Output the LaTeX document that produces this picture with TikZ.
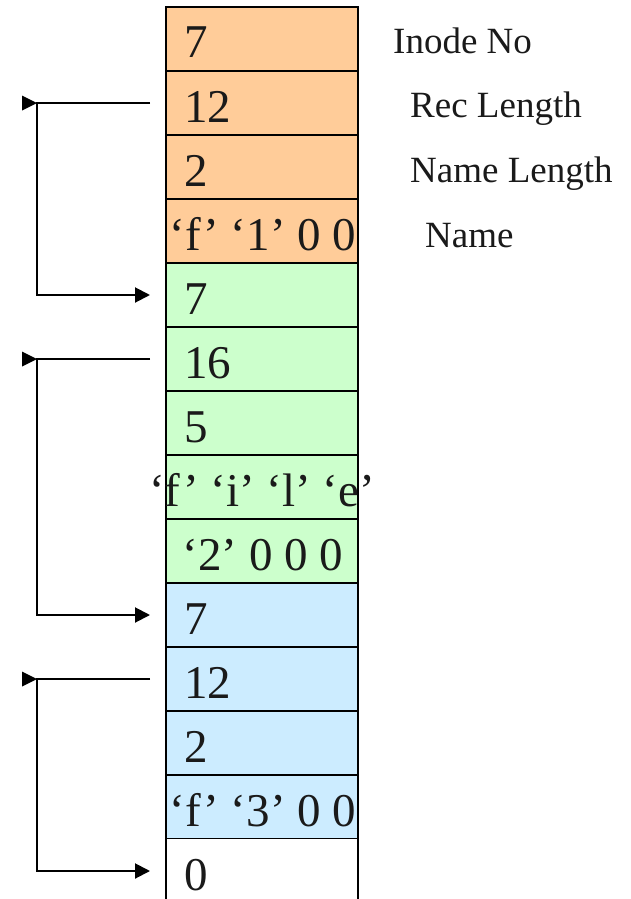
\documentclass[tikz,border=0pt]{standalone}
\usepackage{fontspec}
\setmainfont{Liberation Serif}
\usetikzlibrary{arrows.meta}
\definecolor{orng}{HTML}{FFCC99}
\definecolor{grn}{HTML}{CCFFCC}
\definecolor{blu}{HTML}{CCECFF}
\definecolor{txt}{HTML}{1A1A1A}
\begin{document}
\begin{tikzpicture}[x=1pt,y=-1pt,
  cell/.style={draw=black, line width=2pt, minimum width=192pt, minimum height=64pt, inner sep=0pt, outer sep=0pt},
  opencell/.style={fill=white, minimum width=192pt, minimum height=64pt, inner sep=0pt, outer sep=0pt},
  border/.style={draw=black, line width=2pt},
  num/.style={font=\fontsize{47}{50}\selectfont, inner sep=0pt, text=txt},
  lbl/.style={font=\fontsize{37}{40}\selectfont, inner sep=0pt, text=txt, anchor=base west},
  link/.style={draw=black, line width=2pt, -{Triangle[length=15pt,width=15pt]}},
  tail/.style={fill=black}
]
\useasboundingbox (0,0) rectangle (630,899);
% cells
\node[cell, fill=orng] (c0) at (262,39) {};
\node[cell, fill=orng] (c1) at (262,103) {};
\node[cell, fill=orng] (c2) at (262,167) {};
\node[cell, fill=orng] (c3) at (262,231) {};
\node[cell, fill=grn] (c4) at (262,295) {};
\node[cell, fill=grn] (c5) at (262,359) {};
\node[cell, fill=grn] (c6) at (262,423) {};
\node[cell, fill=grn] (c7) at (262,487) {};
\node[cell, fill=grn] (c8) at (262,551) {};
\node[cell, fill=blu] (c9) at (262,615) {};
\node[cell, fill=blu] (c10) at (262,679) {};
\node[cell, fill=blu] (c11) at (262,743) {};
\node[cell, fill=blu] (c12) at (262,807) {};
\node[opencell] (c13) at (262,871) {};
\draw[border] (c13.north west) -- (c13.south west);
\draw[border] (c13.north east) -- (c13.south east);
% cell texts
\node[num, anchor=base west] (t0) at (184,58) {7};
\node[num, anchor=base west] (t1) at (184,122) {12};
\node[num, anchor=base west] (t2) at (184,186) {2};
\node[num, anchor=base] (t3) at (263,250) {‘f’ ‘1’ 0 0};
\node[num, anchor=base west] (t4) at (184,314) {7};
\node[num, anchor=base west] (t5) at (184,378) {16};
\node[num, anchor=base west] (t6) at (184,442) {5};
\node[num, anchor=base] (t7) at (262,506) {‘f’ ‘i’ ‘l’ ‘e’};
\node[num, anchor=base] (t8) at (263,570) {‘2’ 0 0 0};
\node[num, anchor=base west] (t9) at (184,634) {7};
\node[num, anchor=base west] (t10) at (184,698) {12};
\node[num, anchor=base west] (t11) at (184,762) {2};
\node[num, anchor=base] (t12) at (263,826) {‘f’ ‘3’ 0 0};
\node[num, anchor=base west] (t13) at (184,890) {0};
% side labels
\node[lbl] (l0) at (393,54) {Inode No};
\node[lbl] (l1) at (410,117) {Rec Length};
\node[lbl] (l2) at (410,182) {Name Length};
\node[lbl] (l3) at (425,247) {Name};
% link coordinates
\coordinate (s1) at ([xshift=-16pt]c1.west);
\coordinate (k1) at (37,103);
\coordinate (d1) at ([xshift=-16pt]c4.west);
\coordinate (s2) at ([xshift=-16pt]c5.west);
\coordinate (k2) at (37,359);
\coordinate (d2) at ([xshift=-16pt]c9.west);
\coordinate (s3) at ([xshift=-16pt]c10.west);
\coordinate (k3) at (37,679);
\coordinate (d3) at ([xshift=-16pt]c13.west);
% links
\draw[link] (s1) -- (k1) |- (d1);
\draw[link] (s2) -- (k2) |- (d2);
\draw[link] (s3) -- (k3) |- (d3);
\fill[tail] (k1) -- ++(-15,-7.5) -- ++(0,15) -- cycle;
\fill[tail] (k2) -- ++(-15,-7.5) -- ++(0,15) -- cycle;
\fill[tail] (k3) -- ++(-15,-7.5) -- ++(0,15) -- cycle;
\end{tikzpicture}
\end{document}
